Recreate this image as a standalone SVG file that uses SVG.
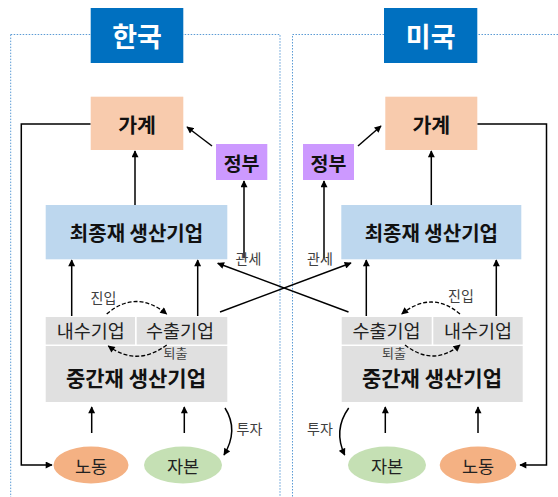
<svg xmlns="http://www.w3.org/2000/svg" width="558" height="497" viewBox="0 0 558 497">
<style>
text{font-family:"Noto Sans CJK KR","Noto Sans",sans-serif;text-anchor:middle;dominant-baseline:central}
.t{font-size:27px;font-weight:bold;fill:#fff}
.b{font-weight:bold;fill:#111}
.r{font-size:18.5px;fill:#222}
.s{font-size:14px;fill:#404040}
.s2{font-size:13px;fill:#404040}
.e{font-size:17.5px;fill:#222}
.frame{fill:none;stroke:#5B9BD5;stroke-width:1;stroke-dasharray:1.5 1.5}
.ln{fill:none;stroke:#000;stroke-width:1.5}
.ar{marker-end:url(#ah)}
.ds{fill:none;stroke:#000;stroke-width:1.3;stroke-dasharray:4 2;marker-end:url(#ah)}
</style>
<defs>
<marker id="ah" viewBox="0 0 10 10" refX="9" refY="5" markerWidth="8" markerHeight="7" orient="auto" markerUnits="userSpaceOnUse">
<path d="M0,0 L10,5 L0,10 z" fill="#000"/>
</marker>
</defs>
<rect width="558" height="497" fill="#fff"/>
<g id="frames">
<rect class="frame" x="10.7" y="34.5" width="269.3" height="480"/>
<rect class="frame" x="292.5" y="34.5" width="300" height="480"/>
</g>
<g id="title-kr"><rect x="90.7" y="8" width="92.6" height="55" fill="#0070C0"/><text class="t" x="137" y="35.5">한국</text></g>
<g id="title-us"><rect x="384" y="8" width="93.3" height="55" fill="#0070C0"/><text class="t" x="430.7" y="35.5">미국</text></g>

<g id="connectors">
<!-- Korea -->
<path class="ln ar" d="M135,205 L135,151"/>
<path class="ln ar" d="M212,146 L187,127"/>
<path class="ln ar" d="M244,258 L244,181"/>
<path class="ln ar" d="M71.7,316 L71.7,260"/>
<path class="ln ar" d="M197.7,316 L197.7,260"/>
<path class="ln ar" d="M90.7,124 L21.3,124 L21.3,465 L52,465"/>
<path class="ln ar" d="M91.7,433 L91.7,407"/>
<path class="ln ar" d="M184.3,433 L184.3,407"/>
<path class="ln ar" d="M225,408 Q239,430 224,455"/>
<!-- cross -->
<path class="ln ar" d="M220,312 L351,263"/>
<path class="ln ar" d="M348.5,312 L217.7,263.3"/>
<!-- USA -->
<path class="ln ar" d="M431.3,205 L431.3,151"/>
<path class="ln ar" d="M358,146 L381,126"/>
<path class="ln ar" d="M324,258 L324,181"/>
<path class="ln ar" d="M366.3,316 L366.3,260"/>
<path class="ln ar" d="M496.3,316 L496.3,260"/>
<path class="ln ar" d="M477.3,124 L546.5,124 L546.5,465 L520,465"/>
<path class="ln ar" d="M385.3,433 L385.3,407"/>
<path class="ln ar" d="M478,433 L478,407"/>
<path class="ln ar" d="M348.7,408 Q333,430 344.7,455"/>
</g>

<g id="kr-household"><rect x="90.7" y="96.7" width="92.6" height="53.3" fill="#F8CBAD"/><text class="b" x="137" y="123.5" font-size="20.5">가계</text></g>
<g id="kr-gov"><rect x="216" y="144" width="51.3" height="36" fill="#CC99FF"/><text class="b" x="241.6" y="162" font-size="19.5">정부</text></g>
<g id="kr-final"><rect x="45.7" y="205" width="181.6" height="54.3" fill="#BDD7EE"/><text class="b" x="136.5" y="232.5" font-size="20">최종재 생산기업</text></g>
<g id="kr-domestic"><rect x="45.7" y="317" width="89.3" height="27.5" fill="#E0E0E0"/><text class="r" x="90.8" y="329.5">내수기업</text></g>
<g id="kr-export"><rect x="136.7" y="317" width="90.6" height="27.5" fill="#E0E0E0"/><text class="r" x="180" y="329.5">수출기업</text></g>
<g id="kr-inter"><rect x="45.7" y="346" width="181.6" height="56" fill="#E0E0E0"/><text class="b" x="136" y="377" font-size="21">중간재 생산기업</text></g>
<g id="kr-labor"><ellipse cx="91" cy="465" rx="37.5" ry="18.5" fill="#F4B183"/><text class="e" x="91" y="465">노동</text></g>
<g id="kr-capital"><ellipse cx="183" cy="465" rx="39" ry="18.5" fill="#C5E0B4"/><text class="e" x="183" y="465">자본</text></g>

<g id="us-household"><rect x="385.3" y="96.7" width="92" height="53.3" fill="#F8CBAD"/><text class="b" x="431.3" y="123.5" font-size="20.5">가계</text></g>
<g id="us-gov"><rect x="303" y="144" width="51" height="36" fill="#CC99FF"/><text class="b" x="328.5" y="162" font-size="19.5">정부</text></g>
<g id="us-final"><rect x="341.3" y="205" width="180" height="54.3" fill="#BDD7EE"/><text class="b" x="431.3" y="232.5" font-size="20">최종재 생산기업</text></g>
<g id="us-export"><rect x="341.7" y="317" width="90" height="27.5" fill="#E0E0E0"/><text class="r" x="386.5" y="329.5">수출기업</text></g>
<g id="us-domestic"><rect x="433.3" y="317" width="89.4" height="27.5" fill="#E0E0E0"/><text class="r" x="478" y="329.5">내수기업</text></g>
<g id="us-inter"><rect x="341.7" y="346" width="181" height="56" fill="#E0E0E0"/><text class="b" x="432" y="377" font-size="21">중간재 생산기업</text></g>
<g id="us-capital"><ellipse cx="387" cy="465" rx="39" ry="18.5" fill="#C5E0B4"/><text class="e" x="387" y="465">자본</text></g>
<g id="us-labor"><ellipse cx="478" cy="465" rx="38.3" ry="18.5" fill="#F4B183"/><text class="e" x="478" y="465">노동</text></g>

<g id="entry-exit-connectors">
<path class="ds" d="M106.7,314 Q136,289 166.7,314"/>
<path class="ds" d="M166.7,345 Q137,367 108.3,346"/>
<path class="ds" d="M460,314 Q432,290 401.7,314"/>
<path class="ds" d="M405,345 Q433,367 460,345"/>
</g>

<g id="labels">
<text class="s" x="103.5" y="296.5">진입</text>
<text class="s2" x="175.5" y="352">퇴출</text>
<text class="s" x="248.5" y="258">관세</text>
<text class="s" x="249.5" y="428">투자</text>
<text class="s" x="461" y="295">진입</text>
<text class="s2" x="394" y="352">퇴출</text>
<text class="s" x="320" y="258">관세</text>
<text class="s" x="320" y="428">투자</text>
</g>
</svg>
